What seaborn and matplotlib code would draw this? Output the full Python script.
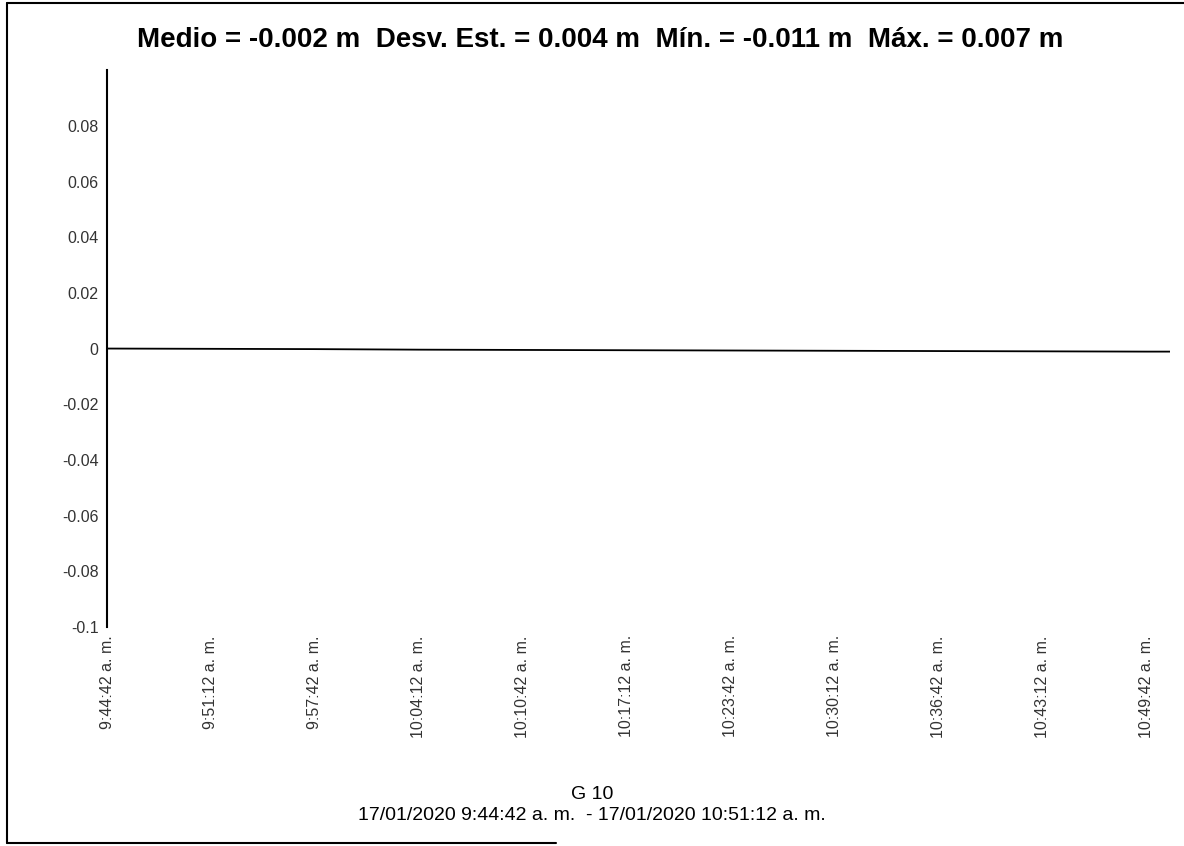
import pandas as pd
import numpy as np
import matplotlib.pyplot as plt
import seaborn as sns
from matplotlib.lines import Line2D

times = ["09:44:42", "09:51:12", "09:57:42", "10:04:12", "10:10:42", "10:17:12",
         "10:23:42", "10:30:12", "10:36:42", "10:43:12", "10:49:42", "10:51:12"]
values = [0.0, -0.0001, -0.0002, -0.0004, -0.0005, -0.0006,
          -0.0007, -0.0008, -0.0009, -0.0010, -0.0011, -0.0011]

tick_times = ["09:44:42", "09:51:12", "09:57:42", "10:04:12", "10:10:42", "10:17:12",
              "10:23:42", "10:30:12", "10:36:42", "10:43:12", "10:49:42"]
tick_labels = ["9:44:42 a. m.", "9:51:12 a. m.", "9:57:42 a. m.", "10:04:12 a. m.",
               "10:10:42 a. m.", "10:17:12 a. m.", "10:23:42 a. m.", "10:30:12 a. m.",
               "10:36:42 a. m.", "10:43:12 a. m.", "10:49:42 a. m."]
y_ticks = [0.08, 0.06, 0.04, 0.02, 0.0, -0.02, -0.04, -0.06, -0.08, -0.1]
y_labels = ["0.08", "0.06", "0.04", "0.02", "0", "-0.02", "-0.04", "-0.06", "-0.08", "-0.1"]

title = "Medio = -0.002 m  Desv. Est. = 0.004 m  Mín. = -0.011 m  Máx. = 0.007 m"
xlabel = "G 10\n17/01/2020 9:44:42 a. m.  - 17/01/2020 10:51:12 a. m."

day = "2020-01-17 "
df = pd.DataFrame({"t": pd.to_datetime([day + t for t in times]), "v": values})
ticks = pd.to_datetime([day + t for t in tick_times])

sns.set_style("white")
plt.rcParams["font.family"] = ["Liberation Sans", "DejaVu Sans"]

fig = plt.figure(figsize=(11.84, 8.46), dpi=100)
ax = fig.add_axes([0.0904, 0.259, 0.898, 0.658])

sns.lineplot(data=df, x="t", y="v", ax=ax, color="black", linewidth=1.3)

ax.set_xlim(df["t"].iloc[0], df["t"].iloc[-1])
ax.set_ylim(-0.1, 0.1)
ax.set_yticks(y_ticks)
ax.set_yticklabels(y_labels, fontsize=11.5, color="#333333")
ax.set_xticks(ticks)
ax.set_xticklabels(tick_labels, rotation=90, fontsize=11.5, color="#333333",
                   va="top", ha="center")
ax.tick_params(axis="both", length=0, pad=6)

for s in ["top", "right", "bottom"]:
    ax.spines[s].set_visible(False)
ax.spines["left"].set_color("black")
ax.spines["left"].set_linewidth(1.5)

ax.set_xlabel("")
ax.set_ylabel("")

# title and axis caption are centred on the page, not the axes
fig.text(0.507, 0.953, title, fontsize=20, fontweight="bold", ha="center", va="center",
         color="black")
fig.text(0.5, 0.026, xlabel, fontsize=14, ha="center", va="bottom", linespacing=1.3,
         color="black")

# page frame from the scan
fig.add_artist(Line2D([0.006, 0.006], [0.003, 0.996], transform=fig.transFigure,
                      color="black", linewidth=1.5))
fig.add_artist(Line2D([0.006, 1.0], [0.996, 0.996], transform=fig.transFigure,
                      color="black", linewidth=1.5))
fig.add_artist(Line2D([0.006, 0.47], [0.003, 0.003], transform=fig.transFigure,
                      color="black", linewidth=1.5))

fig.savefig("out.png", dpi=100)
plt.close()
